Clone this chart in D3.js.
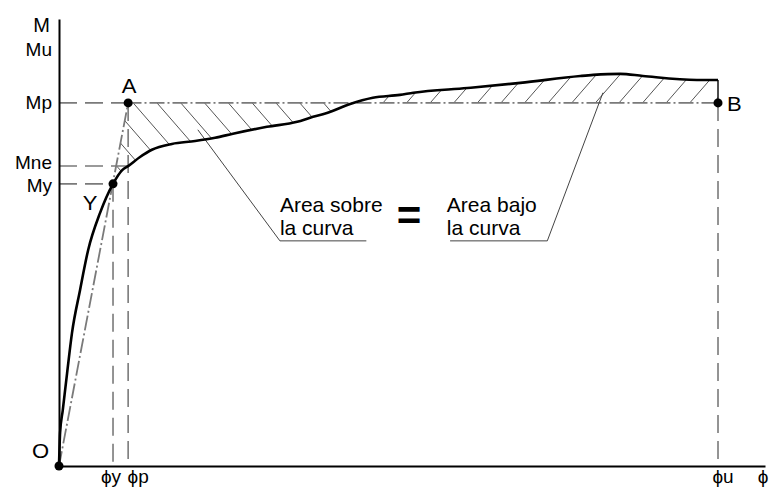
<!DOCTYPE html>
<html>
<head>
<meta charset="utf-8">
<script src="https://cdn.jsdelivr.net/npm/d3@7"></script>
<style>
  html, body { margin: 0; padding: 0; background: #fff; }
  svg { display: block; }
  text { font-family: "Liberation Sans", Arial, sans-serif; fill: #000; }
</style>
</head>
<body>
<svg id="chart" width="771" height="489"></svg>
<script>
// Moment–curvature curve (φ, M), M normalised by Mp, φ by φy
const curvePhi = [0, 0.02, 0.07, 0.15, 0.24, 0.39, 0.54, 0.76, 1.00, 1.17, 1.28, 1.50, 1.72, 2.09, 2.52, 2.89, 3.22, 3.85, 4.41, 4.65, 4.96, 5.39, 5.81, 6.31, 6.56, 7.56, 8.54, 9.65, 9.89, 10.39, 10.81, 11.81, 12.20];
const curveM   = [0, 0.091, 0.154, 0.256, 0.366, 0.485, 0.595, 0.697, 0.777, 0.815, 0.826, 0.851, 0.871, 0.887, 0.895, 0.904, 0.915, 0.934, 0.948, 0.959, 0.972, 0.997, 1.014, 1.022, 1.028, 1.041, 1.055, 1.074, 1.077, 1.080, 1.074, 1.063, 1.063];

// Characteristic values
const phiY = 1.00, phiP = 1.28, phiU = 12.20, phiMax = 13.07;
const My = 0.777, Mne = 0.826, Mp = 1.00, Mu = 1.146, Mmax = 1.231;

// Axis tick labels
const mTickValues = [My, Mne, Mp, Mu];
const mTickLabels = ["My", "Mne", "Mp", "Mu"];
const phiTickValues = [phiY, phiP, phiU];
const phiTickLabels = ["ϕy", "ϕp", "ϕu"];

// Annotation leaders and text anchors (φ, M)
const leaderAbove = [[2.57, 0.926], [4.09, 0.620], [5.69, 0.620]];
const leaderBelow = [[10.07, 1.028], [9.04, 0.620], [7.24, 0.620]];
const textAbove = { phi: 4.09, m: 0.700, lines: ["Area sobre", "la curva"] };
const textBelow = { phi: 7.18, m: 0.700, lines: ["Area bajo", "la curva"] };
const equalSign = { phi: 6.48, m: 0.650 };

const curve = curvePhi.map((p, i) => [p, curveM[i]]);

const svg = d3.select("#chart");
const x = d3.scaleLinear().domain([0, phiMax]).range([59, 765]);
const y = d3.scaleLinear().domain([0, Mmax]).range([466, 19]);

const grey = "#7a7a7a";
const defs = svg.append("defs");

// Region between the curve and the Mp line
const between = d3.area()
  .x(d => x(d[0])).y0(y(Mp)).y1(d => y(d[1]))
  .curve(d3.curveMonotoneX);
defs.append("clipPath").attr("id", "clipBetween")
  .append("path").attr("d", between(curve));

const poly = pts => "M" + pts.map(p => x(p[0]) + "," + y(p[1])).join("L") + "Z";
// below Mp and to the right of the line O–A
defs.append("clipPath").attr("id", "clipAbove")
  .append("path").attr("d", poly([[0, 0], [phiP, Mp], [phiMax, Mp], [phiMax, 0]]));
// above Mp
defs.append("clipPath").attr("id", "clipBelow")
  .append("path").attr("d", poly([[0, Mp], [phiMax, Mp], [phiMax, Mmax], [0, Mmax]]));

// Hatching
const hatchStep = 23.8, hatchSlope = 1.15, hatchLen = 120;
const gA = svg.append("g").attr("clip-path", "url(#clipBetween)")
  .append("g").attr("clip-path", "url(#clipAbove)");
const startsA = d3.range(-4, 14).map(k => x(phiP) + 5 + k * hatchStep);
gA.selectAll("line").data(startsA).join("line")
  .attr("x1", d => d).attr("y1", y(Mp))
  .attr("x2", d => d + hatchLen).attr("y2", y(Mp) + hatchLen * hatchSlope)
  .attr("stroke", "#555").attr("stroke-width", 1);

const gB = svg.append("g").attr("clip-path", "url(#clipBetween)")
  .append("g").attr("clip-path", "url(#clipBelow)");
const startsB = d3.range(-3, 16).map(k => 383 + k * 23.6);
gB.selectAll("line").data(startsB).join("line")
  .attr("x1", d => d).attr("y1", y(Mp))
  .attr("x2", d => d + hatchLen).attr("y2", y(Mp) - hatchLen * hatchSlope)
  .attr("stroke", "#555").attr("stroke-width", 1);

// Dashed reference lines
const dashed = [
  [[0, Mp], [phiP, Mp]],
  [[0, Mne], [phiP, Mne]],
  [[0, My], [phiY, My]],
  [[phiY, My], [phiY, 0]],
  [[phiP, Mp], [phiP, 0]],
  [[phiU, Mp], [phiU, 0]]
];
svg.append("g").selectAll("line").data(dashed).join("line")
  .attr("x1", d => x(d[0][0])).attr("y1", d => y(d[0][1]))
  .attr("x2", d => x(d[1][0])).attr("y2", d => y(d[1][1]))
  .attr("stroke", grey).attr("stroke-width", 1.6)
  .attr("stroke-dasharray", "18,8");

// Idealised bilinear diagram (dash-dot)
const ideal = [[0, 0], [phiP, Mp], [phiU, Mp]];
svg.append("path")
  .attr("d", d3.line().x(d => x(d[0])).y(d => y(d[1]))(ideal))
  .attr("fill", "none").attr("stroke", grey).attr("stroke-width", 1.8)
  .attr("stroke-dasharray", "15,3,2,3");

// Closing segment at φu
svg.append("line")
  .attr("x1", x(phiU)).attr("y1", y(curveM[curveM.length - 1]))
  .attr("x2", x(phiU)).attr("y2", y(Mp))
  .attr("stroke", "#000").attr("stroke-width", 1.4);

// Leaders
const leader = d3.line().x(d => x(d[0])).y(d => y(d[1]));
[leaderAbove, leaderBelow].forEach(l => {
  svg.append("path").attr("d", leader(l))
    .attr("fill", "none").attr("stroke", "#444").attr("stroke-width", 1);
});

// Moment–curvature curve
svg.append("path")
  .attr("d", d3.line().x(d => x(d[0])).y(d => y(d[1])).curve(d3.curveMonotoneX)(curve))
  .attr("fill", "none").attr("stroke", "#000").attr("stroke-width", 2.6)
  .attr("stroke-linejoin", "round");

// Axes
const mLabelShift = [2, -3, 0, 0];
const yAxis = svg.append("g").attr("transform", `translate(${x(0)},0)`)
  .call(d3.axisLeft(y).tickValues(mTickValues)
    .tickFormat((d, i) => mTickLabels[i]).tickSize(0).tickSizeOuter(0).tickPadding(7));
yAxis.select(".domain").attr("stroke", "#000").attr("stroke-width", 2);
yAxis.selectAll(".tick text")
  .attr("font-size", 19).attr("font-family", "Liberation Sans, Arial, sans-serif")
  .attr("fill", "#000").attr("dy", "0.3em")
  .attr("y", (d, i) => mLabelShift[i]);

const xAxis = svg.append("g").attr("transform", `translate(0,${y(0)})`)
  .call(d3.axisBottom(x).tickValues([]).tickSize(0).tickSizeOuter(0));
xAxis.select(".domain").attr("stroke", "#000").attr("stroke-width", 2);

// Axis titles
svg.append("text").attr("x", x(0) - 9).attr("y", y(Mmax) + 13)
  .attr("text-anchor", "end").attr("font-size", 20).text("M");
svg.append("text").attr("x", x(phiMax) - 2).attr("y", y(0) + 17)
  .attr("text-anchor", "middle").attr("font-size", 19).text("ϕ");

// Curvature labels
const phiLabelOffset = [-2, 10, 5];
svg.append("g").selectAll("text").data(phiTickValues).join("text")
  .attr("x", (d, i) => x(d) + phiLabelOffset[i]).attr("y", y(0) + 17)
  .attr("text-anchor", "middle").attr("font-size", 19)
  .text((d, i) => phiTickLabels[i]);

// Key points
const points = [
  { p: [0, 0], name: "O", dx: -10, dy: -8, anchor: "end" },
  { p: [phiY, My], name: "Y", dx: -23, dy: 26, anchor: "middle" },
  { p: [phiP, Mp], name: "A", dx: 1, dy: -10, anchor: "middle" },
  { p: [phiU, Mp], name: "B", dx: 9, dy: 8, anchor: "start" }
];
svg.append("g").selectAll("circle").data(points).join("circle")
  .attr("cx", d => x(d.p[0])).attr("cy", d => y(d.p[1])).attr("r", 4.5).attr("fill", "#000");
svg.append("g").selectAll("text").data(points).join("text")
  .attr("transform", d => `translate(${x(d.p[0]) + d.dx},${y(d.p[1]) + d.dy}) scale(1.1,1)`)
  .attr("text-anchor", d => d.anchor).attr("font-size", 20).text(d => d.name);

// Annotation text
[textAbove, textBelow].forEach(t => {
  const tx = svg.append("text").attr("x", x(t.phi)).attr("y", y(t.m)).attr("font-size", 21);
  t.lines.forEach((s, i) => {
    tx.append("tspan").attr("x", x(t.phi)).attr("dy", i === 0 ? 0 : 23).text(s);
  });
});
svg.append("text").attr("x", x(equalSign.phi)).attr("y", y(equalSign.m))
  .attr("text-anchor", "middle").attr("font-size", 42).attr("font-weight", "bold").text("=");
</script>
</body>
</html>
